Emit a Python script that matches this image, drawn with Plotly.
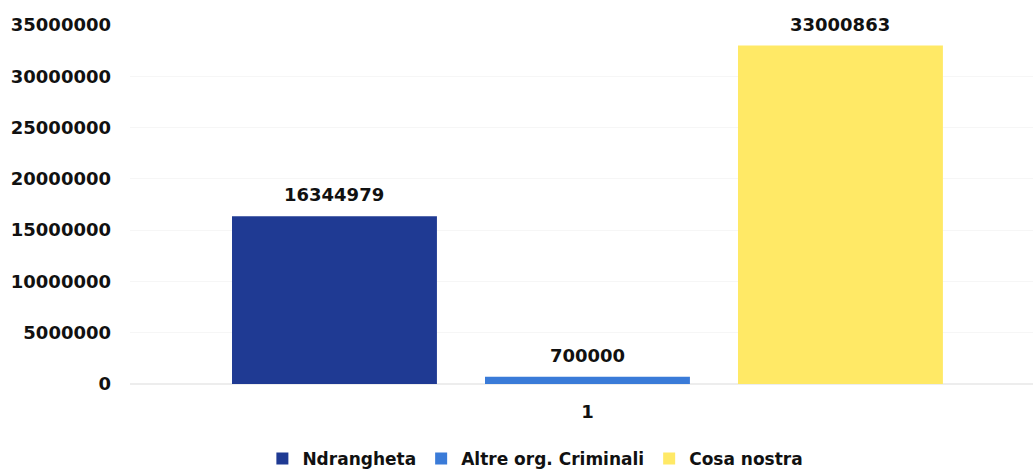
import plotly.graph_objects as go

categories = ["1"]
series_names = ["Ndrangheta", "Altre org. Criminali", "Cosa nostra"]
series_values = [[16344979], [700000], [33000863]]
series_colors = ["#1F3A93", "#3A7BD8", "#FFE966"]
y_ticks = [0, 5000000, 10000000, 15000000, 20000000, 25000000, 30000000, 35000000]

FONT = "DejaVu Sans"
TXT = "#111111"

W, H = 1033, 470
M_L, M_R, M_T, M_B = 130, 0, 25, 86
BARGAP, BARGROUPGAP = 0.1595, 0.19
X_RANGE = [-0.5066, 0.4934]

fig = go.Figure()
for name, vals, col in zip(series_names, series_values, series_colors):
    fig.add_trace(go.Bar(
        name=name,
        x=categories,
        y=vals,
        marker=dict(color=col, line=dict(width=0)),
        cliponaxis=False,
    ))

# value labels above each bar, horizontally aligned with its slot in the group
plot_w = W - M_L - M_R
px_per_cat = plot_w / (X_RANGE[1] - X_RANGE[0])
slot = (1 - BARGAP) * px_per_cat / len(series_names)
for i, vals in enumerate(series_values):
    shift = (i - (len(series_names) - 1) / 2) * slot
    for j, v in enumerate(vals):
        fig.add_annotation(
            x=j, y=v, xref="x", yref="y",
            text=str(v), showarrow=False,
            xanchor="center", yanchor="bottom",
            xshift=shift, yshift=9,
            font=dict(family=FONT, size=18, color=TXT, weight="bold"),
        )

fig.update_layout(
    width=W,
    height=H,
    margin=dict(l=M_L, r=M_R, t=M_T, b=M_B, autoexpand=False),
    paper_bgcolor="white",
    plot_bgcolor="white",
    barmode="group",
    bargap=BARGAP,
    bargroupgap=BARGROUPGAP,
    font=dict(family=FONT, size=18, color=TXT, weight="bold"),
    showlegend=True,
    legend=dict(
        orientation="h",
        xref="container", yref="container",
        x=0.254, xanchor="left",
        y=1 - 459 / H, yanchor="middle",
        font=dict(family=FONT, size=17, color=TXT, weight="bold"),
        itemwidth=30,
        tracegroupgap=0,
    ),
    xaxis=dict(
        type="category",
        range=X_RANGE,
        showgrid=False,
        showline=False,
        zeroline=False,
        ticks="",
        ticklabelstandoff=15,
        tickfont=dict(family=FONT, size=18, color=TXT, weight="bold"),
    ),
    yaxis=dict(
        range=[0, 35000000],
        tickvals=y_ticks,
        ticktext=[str(v) for v in y_ticks],
        showgrid=True,
        gridcolor="#F6F6F6",
        gridwidth=1,
        zeroline=True,
        zerolinecolor="#EDEDED",
        zerolinewidth=2,
        showline=False,
        ticks="",
        ticklabelstandoff=18,
        tickfont=dict(family=FONT, size=18, color=TXT, weight="bold"),
    ),
)

fig.write_html("out.html")
